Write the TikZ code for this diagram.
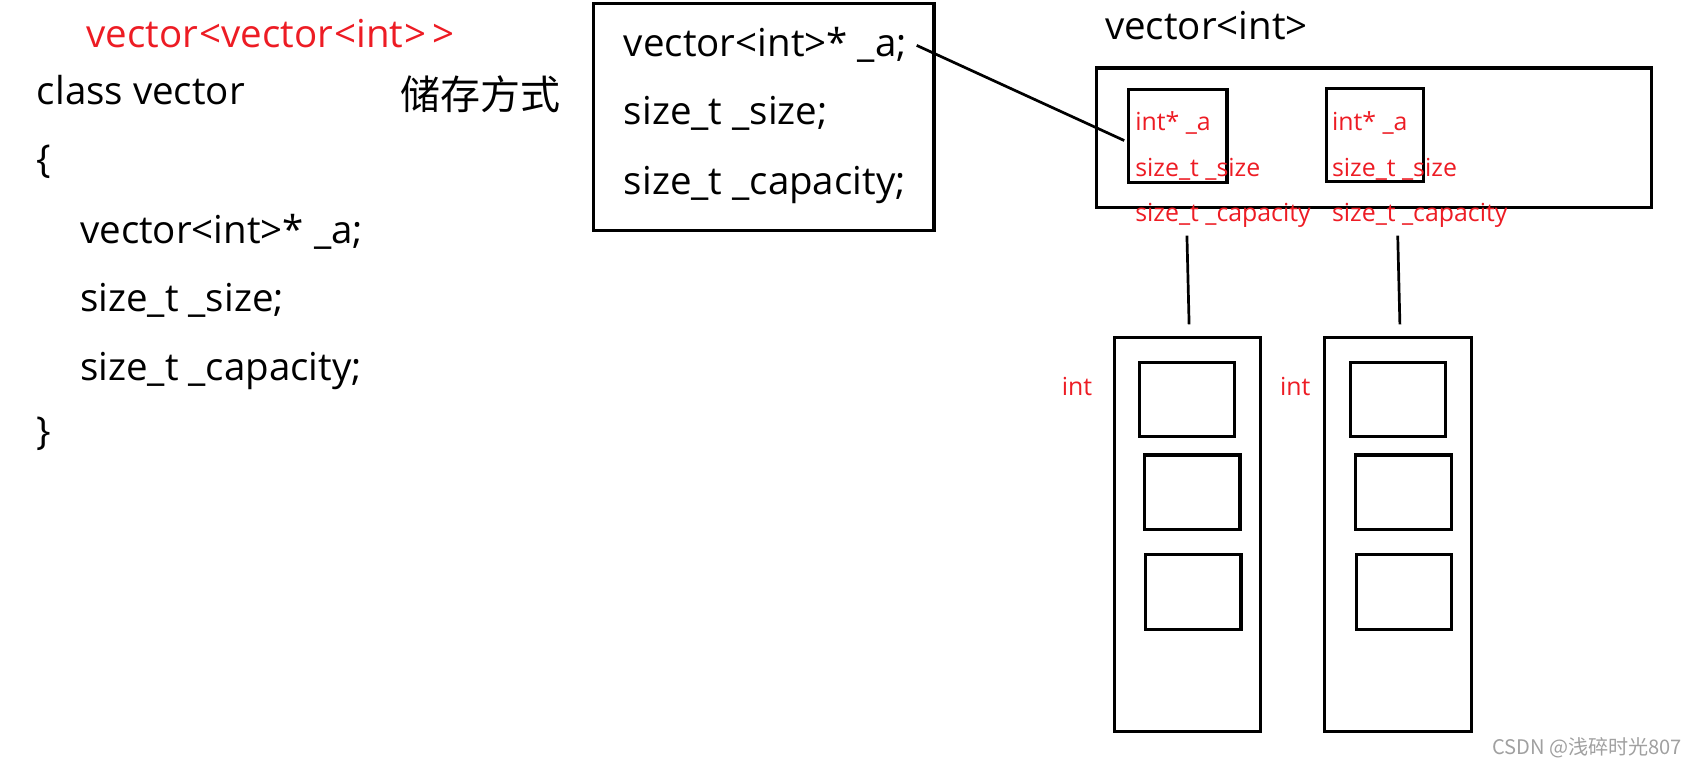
\documentclass[tikz,border=0pt]{standalone}
\usepackage{fontspec}
\setmainfont{Open Sans}
\newfontfamily\cjkfont{Noto Sans CJK SC}
\definecolor{redtxt}{RGB}{237,28,36}
\definecolor{wmgray}{RGB}{160,160,160}
\begin{document}
\begin{tikzpicture}[x=1pt,y=-1pt,
  txt/.style={inner sep=0pt, anchor=base west, font=\fontsize{35.6}{40}\selectfont},
  redbig/.style={txt, text=redtxt},
  redsm/.style={inner sep=0pt, anchor=base west, font=\fontsize{23}{26}\selectfont, text=redtxt},
  box/.style={draw, line width=3pt, inner sep=0pt, outer sep=0pt},
  conn/.style={line width=2.5pt}]
\useasboundingbox (0,0) rectangle (1568,711);
% left code
\node[redbig] (title) at (80,44) {vector\kern1pt<vector\kern1pt<int\kern1pt>{}\kern6pt{}>};
\node[txt] (cls) at (34,97) {class vector};
\node[txt] (lb) at (34,160) {\{};
\node[txt] (f1) at (74,225) {vector<int>* \_a;};
\node[txt] (f2) at (74,288) {size\_t \_size;};
\node[txt] (f3) at (74,352) {size\_t \_capacity;};
\node[txt] (rb) at (34,411) {\}};
\node[inner sep=0pt, anchor=base west, font=\cjkfont\fontsize{37}{40}\selectfont] (cn) at (370,101) {储存方式};
% middle box
\node[box, minimum width=315pt, minimum height=210pt] (mid) at (706.5,108) {};
\node[txt] (m1) at (577,52) {vector<int>* \_a;};
\node[txt] (m2) at (577,115) {size\_t \_size;};
\node[txt] (m3) at (577,180) {size\_t \_capacity;};
% right top
\node[txt] (vi) at (1022,37) {vector<int>};
\node[box, minimum width=514pt, minimum height=129pt] (big) at (1271,127.5) {};
\node[box, minimum width=91pt, minimum height=86pt] (s1) at (1089.5,126) {};
\node[box, minimum width=90pt, minimum height=86pt] (s2) at (1272,125) {};
\node[redsm] (a1) at (1050,121) {int* \_a};
\node[redsm] (b1) at (1050,163) {size\_t \_size};
\node[redsm] (c1) at (1050,205) {size\_t \_capacity};
\node[redsm] (a2) at (1232,121) {int* \_a};
\node[redsm] (b2) at (1232,163) {size\_t \_size};
\node[redsm] (c2) at (1232,205) {size\_t \_capacity};
% connector
\coordinate (p1) at (848,42);
\coordinate (p2) at (1040,130);
\draw[conn] (p1) -- (p2);
% tall boxes
\node[box, minimum width=135pt, minimum height=365pt] (t1) at (1098.5,494.5) {};
\node[box, minimum width=136pt, minimum height=365pt] (t2) at (1293,494.5) {};
\node[box, minimum width=88pt, minimum height=69pt] (e11) at (1098,369.5) {};
\node[box, minimum width=88pt, minimum height=69pt] (e12) at (1103,455.5) {};
\node[box, minimum width=88pt, minimum height=69pt] (e13) at (1104,547.5) {};
\node[box, minimum width=88pt, minimum height=69pt] (e21) at (1293,369.5) {};
\node[box, minimum width=89pt, minimum height=69pt] (e22) at (1298.5,455.5) {};
\node[box, minimum width=88pt, minimum height=69pt] (e23) at (1299,547.5) {};
\node[redsm] (i1) at (982,366) {int};
\node[redsm] (i2) at (1184,366) {int};
% vertical links
\coordinate (v1a) at (1098,218);
\coordinate (v1b) at (1100,300);
\coordinate (v2a) at (1293,218);
\coordinate (v2b) at (1295,300);
\draw[conn] (v1a) -- (v1b);
\draw[conn] (v2a) -- (v2b);
% watermark
\node[inner sep=0pt, anchor=base west, font=\cjkfont\fontsize{18.6}{20}\selectfont, text=wmgray] (wm) at (1380,698) {CSDN @浅碎时光807};
\end{tikzpicture}
\end{document}
